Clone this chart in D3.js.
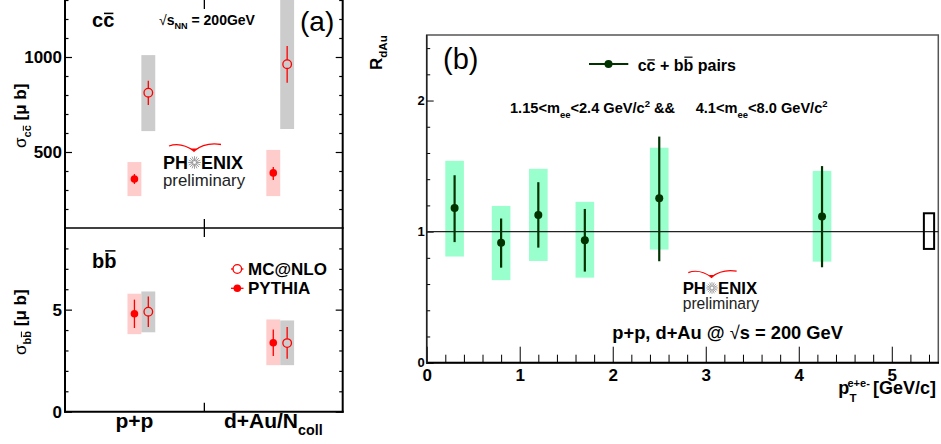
<!DOCTYPE html>
<html><head><meta charset="utf-8">
<script src="https://cdn.jsdelivr.net/npm/d3@7"></script>
<style>
body{margin:0;background:#fff;}
svg{display:block;}
text{font-family:"Liberation Sans", Arial, sans-serif;}
</style></head><body>
<svg id="c" width="941" height="444"></svg>
<script>
// ---------- DATA ----------
const categories = ["p+p", "d+Au/N"];
// c cbar cross section [mu b]
const ccPythia      = [358, 390];
const ccPythiaStat  = [[332, 384], [353, 421]];
const ccPythiaSys   = [[268, 447], [268, 511]];
const ccMcnlo       = [812, 962];
const ccMcnloStat   = [[747, 875], [865, 1058]];
const ccMcnloSys    = [[610, 1010], [621, 1400]];
// b bbar cross section [mu b]
const bbPythia      = [4.80, 3.38];
const bbPythiaStat  = [[4.10, 5.49], [2.73, 4.03]];
const bbPythiaSys   = [[3.80, 5.78], [2.28, 4.52]];
const bbMcnlo       = [4.90, 3.36];
const bbMcnloStat   = [[4.15, 5.64], [2.60, 4.15]];
const bbMcnloSys    = [[3.89, 5.89], [2.28, 4.47]];
const ccMajorTicks = [500, 1000];
const bbMajorTicks = [0, 5];
// R_dAu vs pT
const ptVals   = [0.3, 0.8, 1.2, 1.7, 2.5, 4.25];
const rdau     = [1.18, 0.916, 1.127, 0.934, 1.255, 1.115];
const statLo   = [0.92, 0.725, 0.878, 0.695, 0.774, 0.728];
const statHi   = [1.43, 1.10, 1.377, 1.173, 1.725, 1.50];
const sysLo    = [0.81, 0.63, 0.776, 0.649, 0.863, 0.771];
const sysHi    = [1.54, 1.196, 1.479, 1.227, 1.64, 1.463];
const normUnc  = {x: 5.4, lo: 0.868, hi: 1.14};
const ptTicks  = [0, 1, 2, 3, 4, 5];
const rTicks   = [0, 1, 2];

// ---------- SETUP ----------
const svg = d3.select("#c");
const bars = [];
function rich(parent, x, y, parts, size, weight = "bold", anchor = "start") {
  const t = parent.append("text").attr("x", x).attr("y", y)
    .attr("font-size", size).attr("font-weight", weight).attr("text-anchor", anchor).attr("fill", "#000");
  let cur = 0;
  parts.forEach(p => {
    const target = p.sub ? size * 0.32 : p.sup ? -size * 0.42 : 0;
    const ts = t.append("tspan").attr("dy", target - cur).text(p.t);
    if (p.sub || p.sup) ts.attr("font-size", size * (p.scale || 0.65));
    if (p.weight) ts.attr("font-weight", p.weight);
    if (p.family) ts.attr("font-family", p.family);
    if (p.bar) bars.push({ts, parent, k: p.bar});
    cur = target;
  });
  return t;
}
function styleAxis(g, sw = 1, fs = 17) {
  g.select(".domain").remove();
  g.selectAll(".tick line").attr("stroke", "#000").attr("stroke-width", sw);
  g.selectAll(".tick text").attr("font-family", "Liberation Sans, Arial, sans-serif")
    .attr("font-weight", "bold").attr("font-size", fs).attr("fill", "#000");
}

// ---------- LEFT PANEL ----------
const xL  = d3.scaleLinear().domain([0, 2]).range([65, 342.7]);
const yCC = d3.scaleLinear().domain([100, 1300]).range([228, 0]);
const yBB = d3.scaleLinear().domain([0, 9]).range([411.7, 228]);
const offP = 0.5, offM = 0.6, halfW = 0.05;
const red = "#ff0000";
const L = svg.append("g");

function sysBoxes(y, sys, off, color) {
  L.append("g").selectAll("rect").data(sys).join("rect")
    .attr("x", (d, i) => xL(i + off - halfW)).attr("width", xL(2 * halfW) - xL(0))
    .attr("y", d => y(d[1])).attr("height", d => y(d[0]) - y(d[1]))
    .attr("fill", color);
}
sysBoxes(yCC, ccPythiaSys, offP, "#ffcccc");
sysBoxes(yCC, ccMcnloSys, offM, "#cccccc");
sysBoxes(yBB, bbPythiaSys, offP, "#ffcccc");
sysBoxes(yBB, bbMcnloSys, offM, "#cccccc");

// axes (ticks)
function leftAxes(y, majors, minors, yTop, yBot) {
  let g = L.append("g").attr("transform", "translate(65,0)")
    .call(d3.axisLeft(y).tickValues(minors).tickSize(-3.5).tickFormat(""));
  styleAxis(g, 1.2);
  g = L.append("g").attr("transform", "translate(65,0)")
    .call(d3.axisLeft(y).tickValues(majors).tickSize(-7).tickPadding(3).tickFormat(d3.format("d")));
  styleAxis(g, 1.2, 17);
  g = L.append("g").attr("transform", "translate(342.7,0)")
    .call(d3.axisRight(y).tickValues(minors).tickSize(-3.5).tickFormat(""));
  styleAxis(g, 1.2);
  g = L.append("g").attr("transform", "translate(342.7,0)")
    .call(d3.axisRight(y).tickValues(majors).tickSize(-7).tickFormat(""));
  styleAxis(g, 1.2);
  g = L.append("g").attr("transform", `translate(0,${yTop})`)
    .call(d3.axisTop(xL).tickValues([1]).tickSize(-9).tickFormat(""));
  styleAxis(g, 1.3);
  g = L.append("g").attr("transform", `translate(0,${yBot})`)
    .call(d3.axisBottom(xL).tickValues([1]).tickSize(-9).tickFormat(""));
  styleAxis(g, 1.3);
}
leftAxes(yCC, ccMajorTicks, d3.range(200, 1301, 100).filter(v => v % 500), 0, 228);
leftAxes(yBB, bbMajorTicks, [1, 2, 3, 4, 6, 7, 8], 228, 411.7);

// frame
L.append("line").attr("x1", 65).attr("x2", 65).attr("y1", -2).attr("y2", 412.7).attr("stroke", "#000").attr("stroke-width", 2);
L.append("line").attr("x1", 342.7).attr("x2", 342.7).attr("y1", -2).attr("y2", 412.7).attr("stroke", "#000").attr("stroke-width", 2);
L.append("line").attr("x1", 64).attr("x2", 343.7).attr("y1", 411.7).attr("y2", 411.7).attr("stroke", "#000").attr("stroke-width", 2);
L.append("line").attr("x1", 64).attr("x2", 343.7).attr("y1", 228).attr("y2", 228).attr("stroke", "#000").attr("stroke-width", 1.6);

// points
function points(y, vals, stat, off, open) {
  const g = L.append("g");
  const r = open ? 4.3 : 3.8;
  vals.forEach((v, i) => {
    const cx = xL(i + off), cy = y(v);
    if (open) {
      g.append("line").attr("x1", cx).attr("x2", cx).attr("y1", y(stat[i][1])).attr("y2", cy - r).attr("stroke", red).attr("stroke-width", 1.3);
      g.append("line").attr("x1", cx).attr("x2", cx).attr("y1", cy + r).attr("y2", y(stat[i][0])).attr("stroke", red).attr("stroke-width", 1.3);
      g.append("circle").attr("cx", cx).attr("cy", cy).attr("r", r).attr("fill", "none").attr("stroke", red).attr("stroke-width", 1.3);
    } else {
      g.append("line").attr("x1", cx).attr("x2", cx).attr("y1", y(stat[i][1])).attr("y2", y(stat[i][0])).attr("stroke", red).attr("stroke-width", 1.3);
      g.append("circle").attr("cx", cx).attr("cy", cy).attr("r", r).attr("fill", red);
    }
  });
}
points(yCC, ccPythia, ccPythiaStat, offP, false);
points(yCC, ccMcnlo, ccMcnloStat, offM, true);
points(yBB, bbPythia, bbPythiaStat, offP, false);
points(yBB, bbMcnlo, bbMcnloStat, offM, true);

// category labels
categories.forEach((c, i) => {
  const parts = [{t: c}];
  if (i === 1) parts.push({t: "coll", sub: true, scale: 0.68});
  rich(L, xL(i + 0.5), 428, parts, 21, "bold", "middle");
});

// texts in left panel
rich(L, 92, 27, [{t: "c"}, {t: "c", bar: "x"}], 20);
rich(L, 92, 268, [{t: "b"}, {t: "b", bar: "a"}], 20);
rich(L, 159, 25, [{t: "\u221A", weight: "normal"}, {t: "s"}, {t: "NN", sub: true}, {t: " = 200GeV"}], 14);
L.append("text").attr("x", 300).attr("y", 31).attr("font-size", 28).attr("font-family", "Liberation Sans, Arial, sans-serif").text("(a)");

// y titles
const t1 = L.append("g").attr("transform", "translate(25.5,148) rotate(-90)");
rich(t1, 0, 0, [{t: "\u03C3", weight: "normal"}, {t: "c", sub: true}, {t: "c", sub: true, bar: "x"}, {t: " [\u03BC b]"}], 17);
const t2 = L.append("g").attr("transform", "translate(25.5,355) rotate(-90)");
rich(t2, 0, 0, [{t: "\u03C3", weight: "normal"}, {t: "b", sub: true}, {t: "b", sub: true, bar: "a"}, {t: " [\u03BC b]"}], 17);

// legend
[["MC@NLO", true, 269, 275], ["PYTHIA", false, 288.3, 294]].forEach(([lab, open, cy, by]) => {
  L.append("line").attr("x1", 231).attr("x2", 243.5).attr("y1", cy).attr("y2", cy).attr("stroke", red).attr("stroke-width", 1.3);
  const c = L.append("circle").attr("cx", 237.3).attr("cy", cy).attr("r", open ? 4.3 : 3.8);
  if (open) c.attr("fill", "#fff").attr("stroke", red).attr("stroke-width", 1.3); else c.attr("fill", red);
  rich(L, 248, by, [{t: lab}], 17);
});

// PHENIX logo
function logo(x0, y0, s) {
  const g = svg.append("g").attr("transform", `translate(${x0},${y0}) scale(${s})`);
  g.append("text").attr("x", 0).attr("y", 0).attr("font-size", 18).attr("font-weight", "bold").text("PH");
  g.append("text").attr("x", 38).attr("y", 0).attr("font-size", 18).attr("font-weight", "bold").text("ENIX");
  const cx = 31.5, cy = -6.5;
  for (let k = 0; k < 16; k++) {
    const a = k * Math.PI / 8;
    g.append("line").attr("x1", cx + 1.5 * Math.cos(a)).attr("y1", cy + 1.5 * Math.sin(a))
      .attr("x2", cx + 6.3 * Math.cos(a)).attr("y2", cy + 6.3 * Math.sin(a))
      .attr("stroke", "#888").attr("stroke-width", 0.8);
  }
  g.append("text").attr("x", 0).attr("y", 16.5).attr("font-size", 16.8).attr("fill", "#222").text("preliminary");
  g.append("path").attr("d", "M6,-23 Q18,-27.5 31,-18 Q42,-27 58,-24.5")
    .attr("fill", "none").attr("stroke", "#ff0000").attr("stroke-width", 1.3);
  g.append("path").attr("d", "M28,-20.5 L31,-17 L34,-20.5 Z").attr("fill", "#ff0000");
}
logo(163, 169, 1);

// ---------- RIGHT PANEL ----------
const xR = d3.scaleLinear().domain([0, 5.5]).range([426.7, 938.3]);
const yR = d3.scaleLinear().domain([0, 2.5]).range([362.7, 35]);
const R = svg.append("g");
const green = "#003300";

R.append("g").selectAll("rect").data(ptVals).join("rect")
  .attr("x", d => xR(d - 0.1)).attr("width", xR(0.2) - xR(0))
  .attr("y", (d, i) => yR(sysHi[i])).attr("height", (d, i) => yR(sysLo[i]) - yR(sysHi[i]))
  .attr("fill", "#99ffcc");

// frame
R.append("rect").attr("x", 426.7).attr("y", 35).attr("width", 938.3 - 426.7).attr("height", 362.7 - 35)
  .attr("fill", "none").attr("stroke", "#555").attr("stroke-width", 1.5);

// axes
let ga = R.append("g").attr("transform", "translate(0,362.7)")
  .call(d3.axisBottom(xR).tickValues(d3.range(0.2, 5.5, 0.2).filter(v => Math.abs(v - Math.round(v)) > 0.01)).tickSize(-8).tickFormat(""));
styleAxis(ga, 1);
ga = R.append("g").attr("transform", "translate(0,362.7)")
  .call(d3.axisBottom(xR).tickValues(ptTicks).tickSize(-16).tickPadding(6).tickFormat(d3.format("d")));
styleAxis(ga, 1, 17);
ga = R.append("g").attr("transform", "translate(426.7,0)")
  .call(d3.axisLeft(yR).tickValues(d3.range(0.2, 2.5, 0.2).filter(v => Math.abs(v - Math.round(v)) > 0.01)).tickSize(-3.5).tickFormat(""));
styleAxis(ga, 1);
ga = R.append("g").attr("transform", "translate(426.7,0)")
  .call(d3.axisLeft(yR).tickValues(rTicks).tickSize(-7).tickPadding(2).tickFormat(d3.format("d")));
styleAxis(ga, 1, 13);
R.append("line").attr("x1", 426).attr("x2", 939).attr("y1", 362.7).attr("y2", 362.7).attr("stroke", "#000").attr("stroke-width", 2);
R.append("line").attr("x1", 426.7).attr("x2", 426.7).attr("y1", 35).attr("y2", 363).attr("stroke", "#222").attr("stroke-width", 1.5);

// unity line
R.append("line").attr("x1", xR(0)).attr("x2", xR(5.5)).attr("y1", yR(1)).attr("y2", yR(1)).attr("stroke", "#222").attr("stroke-width", 1.3);
// normalisation box
R.append("rect").attr("x", xR(normUnc.x - 0.055)).attr("width", xR(0.11) - xR(0))
  .attr("y", yR(normUnc.hi)).attr("height", yR(normUnc.lo) - yR(normUnc.hi))
  .attr("fill", "none").attr("stroke", "#000").attr("stroke-width", 2);

// points
const pg = R.append("g");
ptVals.forEach((p, i) => {
  pg.append("line").attr("x1", xR(p)).attr("x2", xR(p)).attr("y1", yR(statHi[i])).attr("y2", yR(statLo[i]))
    .attr("stroke", green).attr("stroke-width", 2.2);
  pg.append("circle").attr("cx", xR(p)).attr("cy", yR(rdau[i])).attr("r", 4).attr("fill", green);
});

// legend
R.append("line").attr("x1", 589).attr("x2", 628.3).attr("y1", 64).attr("y2", 64).attr("stroke", green).attr("stroke-width", 2);
R.append("circle").attr("cx", 608.5).attr("cy", 64).attr("r", 4).attr("fill", green);
rich(R, 637.7, 70.5, [{t: "c"}, {t: "c", bar: "x"}, {t: " + b"}, {t: "b", bar: "a"}, {t: " pairs"}], 16);

rich(R, 510, 113, [{t: "1.15<m"}, {t: "ee", sub: true}, {t: "<2.4 GeV/c"}, {t: "2", sup: true}, {t: " &&"}], 14.6);
rich(R, 695.7, 113, [{t: "4.1<m"}, {t: "ee", sub: true}, {t: "<8.0 GeV/c"}, {t: "2", sup: true}], 14.6);
rich(R, 612.3, 338.5, [{t: "p+p, d+Au @ "}, {t: "\u221A", weight: "normal"}, {t: "s = 200 GeV"}], 18.3);
R.append("text").attr("x", 443).attr("y", 69).attr("font-size", 29).text("(b)");

// axis titles
const rt = R.append("g").attr("transform", "translate(382,70) rotate(-90)");
rich(rt, 0, 0, [{t: "R"}, {t: "dAu", sub: true, scale: 0.68}], 17);
rich(R, 838.3, 394, [{t: "p"}], 18);
rich(R, 849.5, 402, [{t: "T"}], 11.5);
rich(R, 847.5, 387, [{t: "e+e-"}], 11);
rich(R, 873, 393.5, [{t: "[GeV/c]"}], 18);

logo(682.7, 294, 0.93);

// overbars
bars.forEach(({ts, parent, k}) => {
  const n = ts.node();
  const e = n.getExtentOfChar(0);
  const frac = k === "a" ? 0.04 : 0.2;
  const yy = e.y + e.height * frac;
  parent.append("line").attr("x1", e.x + e.width * 0.08).attr("x2", e.x + e.width * 0.92)
    .attr("y1", yy).attr("y2", yy).attr("stroke", "#000").attr("stroke-width", Math.max(1, e.height * 0.07));
});
</script>
</body></html>
